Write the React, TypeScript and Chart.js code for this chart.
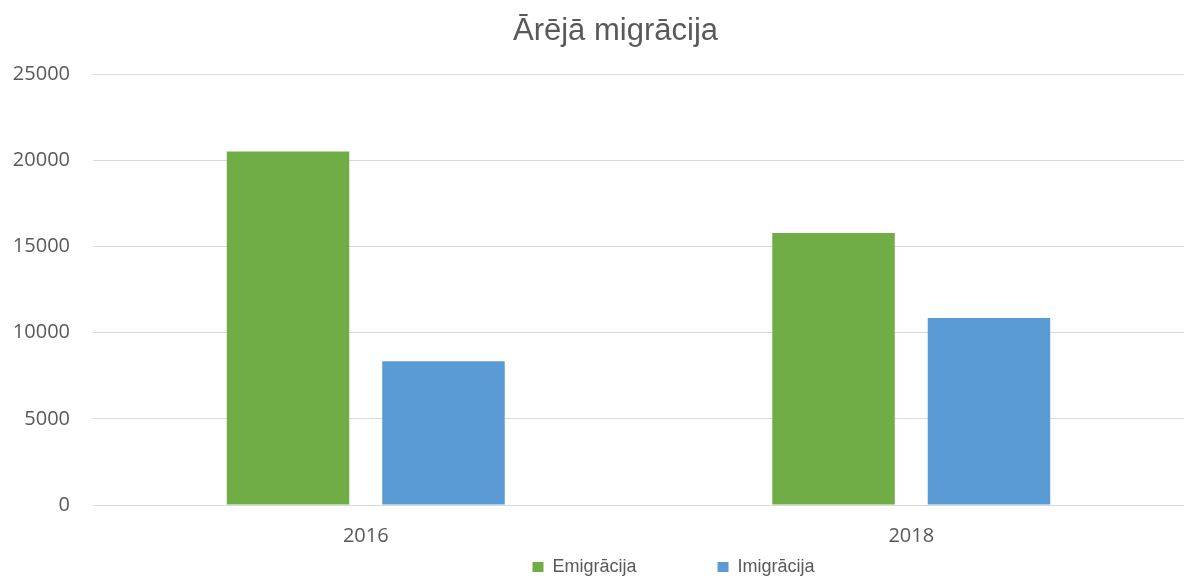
import React, { useEffect, useRef } from "react";
import { Chart, registerables } from "chart.js";

Chart.register(...registerables);

const categories = ["2016", "2018"];
const emigracija = [20500, 15780];
const imigracija = [8340, 10850];
const seriesNames = ["Emigrācija", "Imigrācija"];
const seriesColors = ["#70AD47", "#5B9BD5"];
const yMin = 0;
const yMax = 25000;
const yStep = 5000;
const titleText = "Ārējā migrācija";

const LEGEND_PAD = 81;
const LEGEND_HEIGHT = 16;
const LEGEND_ITEM_OFFSET = -9; // item top relative to legend box top
const LEGEND_SHIFT_X = 75;
const TITLE_SHIFT_X = 17;

const layoutTweaks = {
  id: "layoutTweaks",
  afterLayout(chart: any) {
    const lg = chart.legend;
    if (lg) {
      lg.top = lg.top + LEGEND_ITEM_OFFSET - LEGEND_PAD;
      lg.left += LEGEND_SHIFT_X;
      lg.right += LEGEND_SHIFT_X;
    }
    const tb = chart.titleBlock;
    if (tb) {
      tb.left += TITLE_SHIFT_X;
      tb.right += TITLE_SHIFT_X;
    }
  },
};

export default function App() {
  const ref = useRef<HTMLCanvasElement | null>(null);
  useEffect(() => {
    const ctx = ref.current!;
    const chart = new Chart(ctx, {
      type: "bar",
      data: {
        labels: categories,
        datasets: [
          { label: seriesNames[0], data: emigracija, backgroundColor: seriesColors[0] },
          { label: seriesNames[1], data: imigracija, backgroundColor: seriesColors[1] },
        ],
      },
      options: {
        animation: false,
        responsive: false,
        maintainAspectRatio: false,
        layout: { padding: { left: 13, right: 0, top: 0, bottom: 0 } },
        datasets: { bar: { categoryPercentage: 0.57, barPercentage: 0.788 } },
        plugins: {
          title: {
            display: true,
            text: titleText,
            color: "#595959",
            font: { family: "'Liberation Sans', Arial, sans-serif", size: 31, weight: "normal" },
            padding: { top: 13, bottom: 23.8 },
          },
          legend: {
            display: true,
            position: "bottom",
            align: "center",
            maxHeight: LEGEND_HEIGHT,
            labels: {
              boxWidth: 11,
              boxHeight: 10,
              padding: LEGEND_PAD,
              color: "#595959",
              font: { family: "'Liberation Sans', Arial, sans-serif", size: 18 },
            },
          },
          tooltip: { enabled: false },
        },
        scales: {
          x: {
            grid: { display: false, drawTicks: false },
            border: { display: false },
            ticks: {
              color: "#595959",
              padding: 19,
              font: { family: "'Open Sans', sans-serif", size: 20 },
            },
          },
          y: {
            min: yMin,
            max: yMax,
            afterFit: (scale: any) => {
              scale.width = 80;
            },
            grid: { color: "#d9d9d9", lineWidth: 1, drawTicks: false },
            border: { display: false },
            ticks: {
              stepSize: yStep,
              color: "#595959",
              padding: 23,
              font: { family: "'Open Sans', sans-serif", size: 20 },
              callback: (v: any) => String(v),
            },
          },
        },
      },
      plugins: [layoutTweaks],
    });
    return () => chart.destroy();
  }, []);
  return (
    <div style={{ position: "fixed", left: 0, top: 0, width: 1184, height: 583, background: "#fff" }}>
      <canvas ref={ref} width={1184} height={583} style={{ width: 1184, height: 583, display: "block" }} />
    </div>
  );
}
